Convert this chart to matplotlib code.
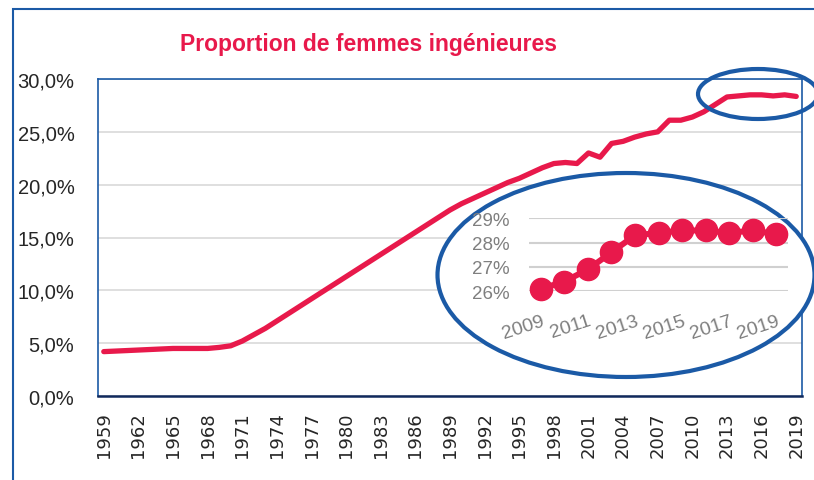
import matplotlib
matplotlib.use("Agg")
import matplotlib.pyplot as plt
import numpy as np
from matplotlib.patches import Ellipse, Rectangle

# Data (share of women among engineers, %)
years = list(range(1959, 2020))
share = [4.2, 4.25, 4.3, 4.35, 4.4, 4.45, 4.5, 4.5, 4.5, 4.5,
         4.6, 4.75, 5.2, 5.8, 6.4, 7.1, 7.8, 8.5, 9.2, 9.9,
         10.6, 11.3, 12.0, 12.7, 13.4, 14.1, 14.8, 15.5, 16.2, 16.9,
         17.6, 18.2, 18.7, 19.2, 19.7, 20.2, 20.6, 21.1, 21.6, 22.0,
         22.1, 22.0, 23.0, 22.6, 23.9, 24.1, 24.5, 24.8, 25.0, 26.1,
         26.1, 26.4, 26.9, 27.6, 28.3, 28.4, 28.5, 28.5, 28.4, 28.5,
         28.35]
zoom_years = years[-11:]
zoom_share = share[-11:]

title = "Proportion de femmes ingénieures"
main_yticks = [0, 5, 10, 15, 20, 25, 30]
main_xticks = list(range(1959, 2020, 3))
zoom_yticks = [26, 27, 28, 29]
zoom_xticks = list(range(2009, 2020, 2))

red = "#E8194B"
blue = "#1B5AA6"
navy = "#10295C"
grid = "#D9D9D9"
grey_txt = "#7F7F7F"

W, H = 814, 481
f = plt.figure(figsize=(W / 100, H / 100), dpi=100)

def px(x0, y0, x1, y1):
    # pixel box (top-left origin) -> figure fraction rect
    return [x0 / W, 1 - y1 / H, (x1 - x0) / W, (y1 - y0) / H]

# outer frame
f.add_artist(Rectangle((12.7 / W, -0.1), 2.0, 1.1 - 10 / H, transform=f.transFigure,
                       fill=False, ec=blue, lw=1.5, zorder=0))

# main chart
ax = f.add_axes(px(98, 80, 802, 397))
ax.plot(years, share, color=red, lw=3.8, solid_capstyle="round", zorder=3)
ax.set_xlim(1958.5, 2019.5)
ax.set_ylim(0, 30)
ax.set_yticks(main_yticks)
ax.set_yticklabels(["%d,0%%" % v for v in main_yticks], family="Liberation Sans",
                   fontsize=14.5, color="#262626")
ax.set_xticks(main_xticks)
ax.set_xticklabels([str(v) for v in main_xticks], rotation=90, family="DejaVu Sans",
                   fontsize=13, color="#262626")
ax.tick_params(axis="both", length=0)
ax.tick_params(axis="y", pad=17)
ax.tick_params(axis="x", pad=11)
ax.yaxis.grid(True, color=grid, lw=1.2)
ax.set_axisbelow(True)
for s in ["left", "top", "right"]:
    ax.spines[s].set_color(blue)
    ax.spines[s].set_linewidth(1.2)
ax.spines["bottom"].set_color(navy)
ax.spines["bottom"].set_linewidth(1.8)

f.text(369 / W, 1 - 45 / H, title, ha="center", va="center", color=red,
       fontsize=16.5, fontweight="bold", family="Liberation Sans")

# ellipses
f.add_artist(Ellipse((626 / 100, (H - 276) / 100), 3.77, 2.04,
                     transform=f.dpi_scale_trans, fc="white", ec=blue, lw=3, zorder=2))
f.add_artist(Ellipse((758 / 100, (H - 95) / 100), 1.20, 0.50,
                     transform=f.dpi_scale_trans, fc="none", ec=blue, lw=3, zorder=2))

# inset
ax2 = f.add_axes(px(529, 219.3, 788, 292.3), zorder=3)
ax2.set_facecolor("none")
ax2.plot(zoom_years, zoom_share, color=red, lw=4.3, marker="o", ms=16,
         clip_on=False, zorder=3)
ax2.set_xlim(2008.5, 2019.5)
ax2.set_ylim(26, 29)
ax2.set_yticks(zoom_yticks)
ax2.set_yticklabels(["%d%%" % v for v in zoom_yticks], family="Liberation Sans",
                    fontsize=13.5, color=grey_txt)
ax2.set_xticks(zoom_xticks)
ax2.set_xticklabels([str(v) for v in zoom_xticks], family="Liberation Sans",
                    fontsize=14, color=grey_txt, rotation=18, ha="right",
                    rotation_mode="anchor")
ax2.tick_params(axis="both", length=0)
ax2.tick_params(axis="y", pad=14)
ax2.tick_params(axis="x", pad=15)
ax2.yaxis.grid(True, color="#D0D0D0", lw=1.5)
ax2.set_axisbelow(True)
for s in ax2.spines.values():
    s.set_visible(False)

f.savefig("out.png", dpi=100)
